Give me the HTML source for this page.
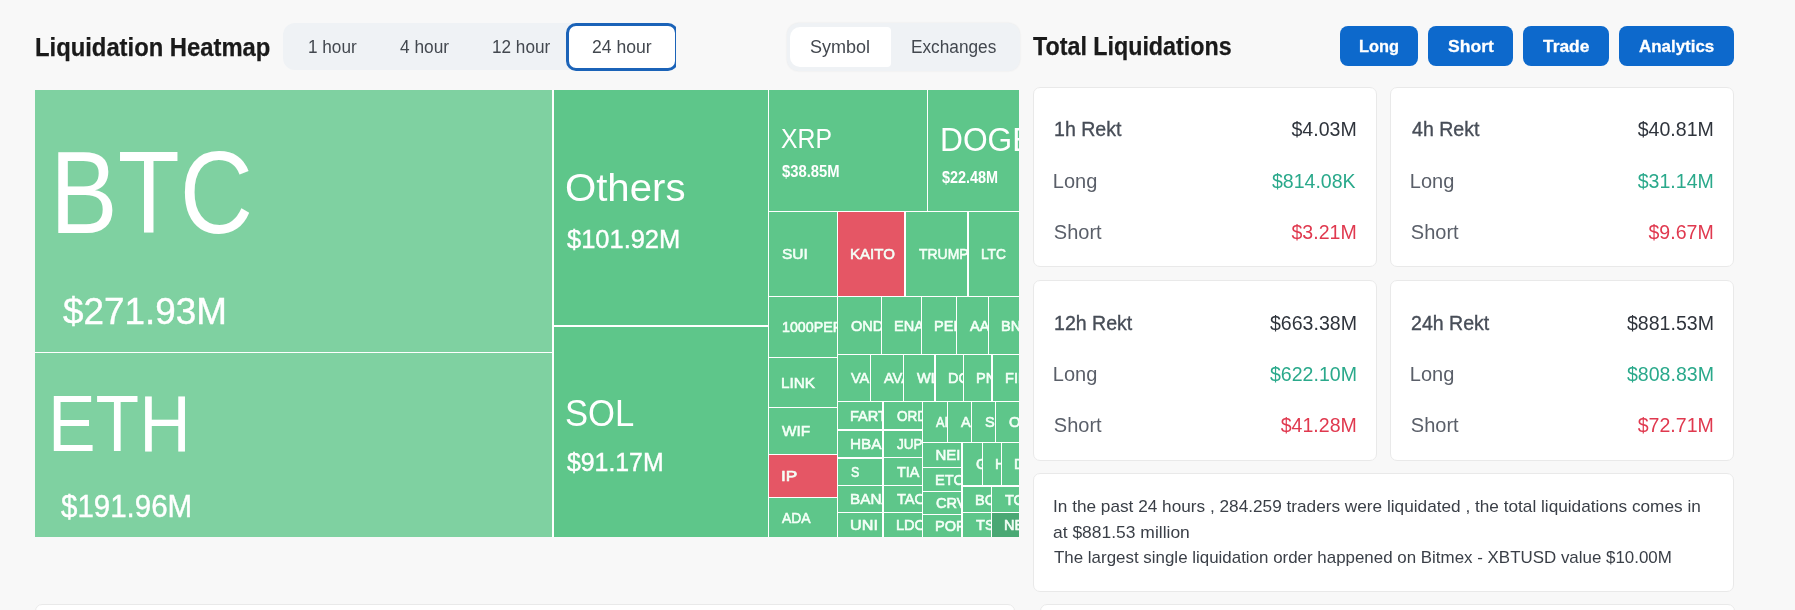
<!DOCTYPE html>
<html><head><meta charset="utf-8"><title>Liquidation Heatmap</title>
<style>
html,body{margin:0;padding:0}
body{width:1795px;height:610px;overflow:hidden;background:#f8f8f8;font-family:"Liberation Sans",sans-serif;position:relative}
.root{position:absolute;left:0;top:0;width:1795px;height:610px;overflow:hidden;transform:translateZ(0);will-change:transform}
.a{position:absolute}
.t{position:absolute;white-space:nowrap;line-height:1;transform-origin:0 0}
.tr{position:absolute;white-space:nowrap;line-height:1;transform-origin:100% 0}
.bx{position:absolute;overflow:hidden}
.s{-webkit-text-stroke:0.6px #f4fff7}
.m{-webkit-text-stroke:0.35px #474d57}
.v{-webkit-text-stroke:0.4px #fff}
.card{position:absolute;background:#fff;border:1px solid #e9e9e9;border-radius:7px;box-sizing:border-box}
.btn{position:absolute;background:#0d69cc;border-radius:8px;top:26px;height:40px}
.bt{-webkit-text-stroke:0.3px #fff}
.h{-webkit-text-stroke:0.25px #1a1a1a}
</style></head>
<body><div class="root">
<span class="t h" style="top:35.00px;font-size:25px;color:#1a1a1a;font-weight:700;left:34.65px;transform:scaleX(0.9520);">Liquidation Heatmap</span><div class="a" style="left:282.5px;top:23.2px;width:393.5px;height:47.3px;background:#eff2f5;border-radius:12px"></div><div class="a" style="left:560px;top:20px;width:116px;height:54px;overflow:hidden"><div class="a" style="left:6px;top:3px;width:111.5px;height:48px;background:#fff;border:3px solid #1b63b8;border-radius:10px;box-sizing:border-box"></div></div><span class="t" style="top:38.10px;font-size:18px;color:#43484f;left:308.05px;transform:scaleX(0.9540);">1 hour</span><span class="t" style="top:38.10px;font-size:18px;color:#43484f;left:400.00px;transform:scaleX(0.9608);">4 hour</span><span class="t" style="top:38.10px;font-size:18px;color:#43484f;left:491.85px;transform:scaleX(0.9533);">12 hour</span><span class="t" style="top:38.10px;font-size:18px;color:#43484f;left:592.42px;transform:scaleX(0.9767);">24 hour</span><div class="a" style="left:787px;top:23px;width:233px;height:48px;background:#eff2f5;border-radius:12px;box-shadow:0 0 2px rgba(0,0,0,0.08)"></div><div class="a" style="left:790px;top:27px;width:101px;height:40px;background:#fff;border-radius:10px 4px 4px 10px"></div><span class="t" style="top:37.90px;font-size:18px;color:#43484f;left:810.40px;transform:scaleX(1.0017);">Symbol</span><span class="t" style="top:37.90px;font-size:18px;color:#43484f;left:910.74px;transform:scaleX(0.9580);">Exchanges</span><div class="a" style="left:35px;top:90px;width:984px;height:447px;background:#fff"></div>
<div class="bx" style="left:35px;top:90px;width:517px;height:262px;background:#7fd1a1"><span class="t" style="top:43.80px;font-size:117px;color:#fff;left:15.29px;transform:scaleX(0.8673);">BTC</span><span class="t v" style="top:203.50px;font-size:36.8px;color:#fff;left:27.50px;transform:scaleX(1.0012);">$271.93M</span></div>
<div class="bx" style="left:35px;top:353px;width:517px;height:184px;background:#7fd1a1"><span class="t" style="top:30.80px;font-size:79px;color:#fff;left:13.38px;transform:scaleX(0.9034);">ETH</span><span class="t v" style="top:138.10px;font-size:31px;color:#fff;left:26.00px;transform:scaleX(0.9515);">$191.96M</span></div>
<div class="bx" style="left:554px;top:90px;width:214px;height:235px;background:#5ec68a"><span class="t" style="top:78.50px;font-size:38.4px;color:#fff;left:11.21px;transform:scaleX(1.0455);">Others</span><span class="t v" style="top:136.70px;font-size:25px;color:#fff;left:13.30px;transform:scaleX(1.0183);">$101.92M</span></div>
<div class="bx" style="left:554px;top:327px;width:214px;height:210px;background:#5ec68a"><span class="t" style="top:67.80px;font-size:37.6px;color:#fff;left:11.46px;transform:scaleX(0.9208);">SOL</span><span class="t v" style="top:122.80px;font-size:25px;color:#fff;left:13.30px;transform:scaleX(0.9927);">$91.17M</span></div>
<div class="bx" style="left:769px;top:90px;width:158px;height:121px;background:#5ec68a"><span class="t" style="top:35.35px;font-size:27.3px;color:#fff;left:12.49px;transform:scaleX(0.9074);">XRP</span><span class="t" style="top:72.75px;font-size:16.5px;color:#fff;font-weight:700;left:13.40px;transform:scaleX(0.8952);">$38.85M</span></div>
<div class="bx" style="left:928px;top:90px;width:91px;height:121px;background:#5ec68a"><span class="t" style="top:33.00px;font-size:33px;color:#fff;left:12.32px;transform:scaleX(0.9613);">DOGE</span><span class="t" style="top:79.50px;font-size:16px;color:#fff;font-weight:700;left:14.20px;transform:scaleX(0.9016);">$22.48M</span></div>
<div class="bx" style="left:769px;top:212px;width:68px;height:84px;background:#5ec68a"><span class="t s" style="top:34.16px;font-size:15px;color:#f4fff7;left:13.40px;transform:scaleX(1.0333);">SUI</span></div>
<div class="bx" style="left:838px;top:212px;width:66px;height:84px;background:#e55665"><span class="t s" style="top:34.16px;font-size:15px;color:#f4fff7;left:12.40px;transform:scaleX(1.0023);">KAITO</span></div>
<div class="bx" style="left:906px;top:212px;width:61px;height:84px;background:#5ec68a"><span class="t s" style="top:34.16px;font-size:15px;color:#f4fff7;left:13.40px;transform:scaleX(0.9300);">TRUMP</span></div>
<div class="bx" style="left:969px;top:212px;width:50px;height:84px;background:#5ec68a"><span class="t s" style="top:34.16px;font-size:15px;color:#f4fff7;left:12.48px;transform:scaleX(0.9154);">LTC</span></div>
<div class="bx" style="left:769px;top:297px;width:68px;height:60px;background:#5ec68a"><span class="t s" style="top:22.16px;font-size:15px;color:#f4fff7;left:13.05px;transform:scaleX(0.9500);">1000PEPE</span></div>
<div class="bx" style="left:769px;top:358px;width:68px;height:49px;background:#5ec68a"><span class="t s" style="top:16.66px;font-size:15px;color:#f4fff7;left:12.38px;transform:scaleX(1.0156);">LINK</span></div>
<div class="bx" style="left:769px;top:408px;width:68px;height:46px;background:#5ec68a"><span class="t s" style="top:15.16px;font-size:15px;color:#f4fff7;left:13.40px;transform:scaleX(1.0222);">WIF</span></div>
<div class="bx" style="left:769px;top:455px;width:68px;height:42px;background:#e55665"><span class="t s" style="top:13.16px;font-size:15px;color:#f4fff7;left:12.25px;transform:scaleX(1.1538);">IP</span></div>
<div class="bx" style="left:769px;top:498px;width:68px;height:39px;background:#5ec68a"><span class="t s" style="top:11.66px;font-size:15px;color:#f4fff7;left:13.40px;transform:scaleX(0.9290);">ADA</span></div>
<div class="bx" style="left:838px;top:297px;width:43px;height:57px;background:#5ec68a"><span class="t s" style="top:20.66px;font-size:15px;color:#f4fff7;left:13.40px;transform:scaleX(0.9700);">ONDO</span></div>
<div class="bx" style="left:882px;top:297px;width:39px;height:57px;background:#5ec68a"><span class="t s" style="top:20.66px;font-size:15px;color:#f4fff7;left:12.43px;transform:scaleX(0.9700);">ENA</span></div>
<div class="bx" style="left:922px;top:297px;width:34px;height:57px;background:#5ec68a"><span class="t s" style="top:20.66px;font-size:15px;color:#f4fff7;left:12.43px;transform:scaleX(0.9700);">PEPE</span></div>
<div class="bx" style="left:957px;top:297px;width:31px;height:57px;background:#5ec68a"><span class="t s" style="top:20.66px;font-size:15px;color:#f4fff7;left:13.40px;transform:scaleX(0.9700);">AAVE</span></div>
<div class="bx" style="left:989px;top:297px;width:30px;height:57px;background:#5ec68a"><span class="t s" style="top:20.66px;font-size:15px;color:#f4fff7;left:12.43px;transform:scaleX(0.9700);">BNB</span></div>
<div class="bx" style="left:838px;top:355px;width:32px;height:46px;background:#5ec68a"><span class="t s" style="top:15.16px;font-size:15px;color:#f4fff7;left:13.40px;transform:scaleX(0.9700);">VANA</span></div>
<div class="bx" style="left:871px;top:355px;width:32px;height:46px;background:#5ec68a"><span class="t s" style="top:15.16px;font-size:15px;color:#f4fff7;left:13.40px;transform:scaleX(0.9700);">AVAX</span></div>
<div class="bx" style="left:904px;top:355px;width:30px;height:46px;background:#5ec68a"><span class="t s" style="top:15.16px;font-size:15px;color:#f4fff7;left:13.40px;transform:scaleX(0.9700);">WLD</span></div>
<div class="bx" style="left:936px;top:355px;width:27px;height:46px;background:#5ec68a"><span class="t s" style="top:15.16px;font-size:15px;color:#f4fff7;left:12.43px;transform:scaleX(0.9700);">DOT</span></div>
<div class="bx" style="left:964px;top:355px;width:27px;height:46px;background:#5ec68a"><span class="t s" style="top:15.16px;font-size:15px;color:#f4fff7;left:12.43px;transform:scaleX(0.9700);">PNUT</span></div>
<div class="bx" style="left:993px;top:355px;width:26px;height:46px;background:#5ec68a"><span class="t s" style="top:15.16px;font-size:15px;color:#f4fff7;left:12.43px;transform:scaleX(0.9700);">FIL</span></div>
<div class="bx" style="left:838px;top:402px;width:44px;height:27px;background:#5ec68a"><span class="t s" style="top:5.66px;font-size:15px;color:#f4fff7;left:12.43px;transform:scaleX(0.9700);">FARTCOIN</span></div>
<div class="bx" style="left:838px;top:431px;width:44px;height:26px;background:#5ec68a"><span class="t s" style="top:5.16px;font-size:15px;color:#f4fff7;left:12.38px;transform:scaleX(1.0200);">HBAR</span></div>
<div class="bx" style="left:838px;top:459px;width:44px;height:26px;background:#5ec68a"><span class="t s" style="top:5.16px;font-size:15px;color:#f4fff7;left:13.40px;transform:scaleX(0.8300);">S</span></div>
<div class="bx" style="left:838px;top:486px;width:44px;height:26px;background:#5ec68a"><span class="t s" style="top:5.16px;font-size:15px;color:#f4fff7;left:12.38px;transform:scaleX(1.0200);">BANANA</span></div>
<div class="bx" style="left:838px;top:513px;width:44px;height:24px;background:#5ec68a"><span class="t s" style="top:4.16px;font-size:15px;color:#f4fff7;left:12.32px;transform:scaleX(1.0792);">UNI</span></div>
<div class="bx" style="left:884px;top:402px;width:38px;height:27px;background:#5ec68a"><span class="t s" style="top:5.66px;font-size:15px;color:#f4fff7;left:13.40px;transform:scaleX(0.9000);">ORDI</span></div>
<div class="bx" style="left:884px;top:431px;width:38px;height:26px;background:#5ec68a"><span class="t s" style="top:5.16px;font-size:15px;color:#f4fff7;left:13.40px;transform:scaleX(0.9000);">JUP</span></div>
<div class="bx" style="left:884px;top:458px;width:38px;height:27px;background:#5ec68a"><span class="t s" style="top:5.66px;font-size:15px;color:#f4fff7;left:13.40px;transform:scaleX(0.9583);">TIA</span></div>
<div class="bx" style="left:884px;top:486px;width:38px;height:26px;background:#5ec68a"><span class="t s" style="top:5.16px;font-size:15px;color:#f4fff7;left:13.40px;transform:scaleX(0.9700);">TAO</span></div>
<div class="bx" style="left:884px;top:513px;width:38px;height:24px;background:#5ec68a"><span class="t s" style="top:4.16px;font-size:15px;color:#f4fff7;left:12.43px;transform:scaleX(0.9700);">LDO</span></div>
<div class="bx" style="left:923px;top:402px;width:24px;height:40px;background:#5ec68a"><span class="t s" style="top:12.16px;font-size:15px;color:#f4fff7;left:13.40px;transform:scaleX(0.8500);">AI16Z</span></div>
<div class="bx" style="left:948px;top:402px;width:23px;height:40px;background:#5ec68a"><span class="t s" style="top:12.16px;font-size:15px;color:#f4fff7;left:13.40px;transform:scaleX(0.9700);">APT</span></div>
<div class="bx" style="left:972px;top:402px;width:23px;height:40px;background:#5ec68a"><span class="t s" style="top:12.16px;font-size:15px;color:#f4fff7;left:13.40px;transform:scaleX(0.9700);">SEI</span></div>
<div class="bx" style="left:996px;top:402px;width:23px;height:40px;background:#5ec68a"><span class="t s" style="top:12.16px;font-size:15px;color:#f4fff7;left:13.40px;transform:scaleX(0.9700);">OP</span></div>
<div class="bx" style="left:923px;top:443px;width:38px;height:24px;background:#5ec68a"><span class="t s" style="top:4.16px;font-size:15px;color:#f4fff7;left:12.40px;">NEIRO</span></div>
<div class="bx" style="left:923px;top:468px;width:38px;height:23px;background:#5ec68a"><span class="t s" style="top:3.66px;font-size:15px;color:#f4fff7;left:12.43px;transform:scaleX(0.9700);">ETC</span></div>
<div class="bx" style="left:923px;top:492px;width:38px;height:22px;background:#5ec68a"><span class="t s" style="top:3.16px;font-size:15px;color:#f4fff7;left:13.40px;transform:scaleX(0.9700);">CRV</span></div>
<div class="bx" style="left:923px;top:515px;width:38px;height:22px;background:#5ec68a"><span class="t s" style="top:3.16px;font-size:15px;color:#f4fff7;left:12.43px;transform:scaleX(0.9700);">POPCAT</span></div>
<div class="bx" style="left:963px;top:443px;width:19px;height:42px;background:#5ec68a"><span class="t s" style="top:13.16px;font-size:15px;color:#f4fff7;left:13.40px;transform:scaleX(0.9700);">GALA</span></div>
<div class="bx" style="left:983px;top:443px;width:18px;height:42px;background:#5ec68a"><span class="t s" style="top:13.16px;font-size:15px;color:#f4fff7;left:12.43px;transform:scaleX(0.9700);">HYPE</span></div>
<div class="bx" style="left:1002px;top:443px;width:17px;height:42px;background:#5ec68a"><span class="t s" style="top:13.16px;font-size:15px;color:#f4fff7;left:12.43px;transform:scaleX(0.9700);">DYDX</span></div>
<div class="bx" style="left:963px;top:487px;width:28px;height:25px;background:#5ec68a"><span class="t s" style="top:4.66px;font-size:15px;color:#f4fff7;left:12.43px;transform:scaleX(0.9700);">BCH</span></div>
<div class="bx" style="left:992px;top:487px;width:27px;height:25px;background:#5ec68a"><span class="t s" style="top:4.66px;font-size:15px;color:#f4fff7;left:13.40px;transform:scaleX(0.9700);">TON</span></div>
<div class="bx" style="left:963px;top:513px;width:28px;height:24px;background:#5ec68a"><span class="t s" style="top:4.16px;font-size:15px;color:#f4fff7;left:13.40px;transform:scaleX(0.9700);">TST</span></div>
<div class="bx" style="left:992px;top:513px;width:27px;height:24px;background:#4aa874"><span class="t s" style="top:4.16px;font-size:15px;color:#f4fff7;left:12.43px;transform:scaleX(0.9700);">NEAR</span></div>
<span class="t h" style="top:34.20px;font-size:25px;color:#1a1a1a;font-weight:700;left:1033.30px;transform:scaleX(0.9305);">Total Liquidations</span><div class="btn" style="left:1340px;width:78px"></div><span class="t bt" style="top:37.70px;font-size:17.4px;color:#fff;font-weight:700;left:1359.46px;transform:scaleX(0.9415);">Long</span><div class="btn" style="left:1428px;width:85px"></div><span class="t bt" style="top:37.70px;font-size:17.4px;color:#fff;font-weight:700;left:1447.59px;transform:scaleX(1.0091);">Short</span><div class="btn" style="left:1523px;width:86px"></div><span class="t bt" style="top:37.70px;font-size:17.4px;color:#fff;font-weight:700;left:1543.00px;">Trade</span><div class="btn" style="left:1619px;width:115px"></div><span class="t bt" style="top:37.70px;font-size:17.4px;color:#fff;font-weight:700;left:1639.30px;transform:scaleX(0.9727);">Analytics</span><div class="card" style="left:1033px;top:87px;width:344px;height:180px"></div><span class="t m" style="top:119.30px;font-size:20px;color:#474d57;left:1053.82px;transform:scaleX(0.9780);">1h Rekt</span><span class="t" style="top:170.60px;font-size:20px;color:#5a5f69;left:1052.80px;">Long</span><span class="t" style="top:221.60px;font-size:20px;color:#5a5f69;left:1053.80px;">Short</span><span class="tr" style="top:119.30px;font-size:20px;color:#2f343c;right:438.02px;transform:scaleX(0.9780);">$4.03M</span><span class="tr" style="top:170.60px;font-size:20px;color:#2aa98b;right:439.07px;transform:scaleX(0.9780);">$814.08K</span><span class="tr" style="top:221.60px;font-size:20px;color:#e0394f;right:438.02px;transform:scaleX(0.9780);">$3.21M</span>
<div class="card" style="left:1390px;top:87px;width:344px;height:180px"></div><span class="t m" style="top:119.30px;font-size:20px;color:#474d57;left:1411.80px;transform:scaleX(0.9780);">4h Rekt</span><span class="t" style="top:170.60px;font-size:20px;color:#5a5f69;left:1409.80px;">Long</span><span class="t" style="top:221.60px;font-size:20px;color:#5a5f69;left:1410.80px;">Short</span><span class="tr" style="top:119.30px;font-size:20px;color:#2f343c;right:81.10px;transform:scaleX(0.9780);">$40.81M</span><span class="tr" style="top:170.60px;font-size:20px;color:#2aa98b;right:81.10px;transform:scaleX(0.9780);">$31.14M</span><span class="tr" style="top:221.60px;font-size:20px;color:#e0394f;right:81.22px;transform:scaleX(0.9780);">$9.67M</span>
<div class="card" style="left:1033px;top:280px;width:344px;height:180.5px"></div><span class="t m" style="top:312.80px;font-size:20px;color:#474d57;left:1053.82px;transform:scaleX(0.9780);">12h Rekt</span><span class="t" style="top:364.10px;font-size:20px;color:#5a5f69;left:1052.80px;">Long</span><span class="t" style="top:415.10px;font-size:20px;color:#5a5f69;left:1053.80px;">Short</span><span class="tr" style="top:312.80px;font-size:20px;color:#2f343c;right:437.77px;transform:scaleX(0.9780);">$663.38M</span><span class="tr" style="top:364.10px;font-size:20px;color:#2aa98b;right:437.77px;transform:scaleX(0.9780);">$622.10M</span><span class="tr" style="top:415.10px;font-size:20px;color:#e0394f;right:437.90px;transform:scaleX(0.9780);">$41.28M</span>
<div class="card" style="left:1390px;top:280px;width:344px;height:180.5px"></div><span class="t m" style="top:312.80px;font-size:20px;color:#474d57;left:1410.82px;transform:scaleX(0.9780);">24h Rekt</span><span class="t" style="top:364.10px;font-size:20px;color:#5a5f69;left:1409.80px;">Long</span><span class="t" style="top:415.10px;font-size:20px;color:#5a5f69;left:1410.80px;">Short</span><span class="tr" style="top:312.80px;font-size:20px;color:#2f343c;right:80.97px;transform:scaleX(0.9780);">$881.53M</span><span class="tr" style="top:364.10px;font-size:20px;color:#2aa98b;right:80.97px;transform:scaleX(0.9780);">$808.83M</span><span class="tr" style="top:415.10px;font-size:20px;color:#e0394f;right:81.10px;transform:scaleX(0.9780);">$72.71M</span>
<div class="card" style="left:1033px;top:473px;width:701px;height:118.5px"></div><span class="t" style="top:498.00px;font-size:17px;color:#3a3f47;left:1053.19px;transform:scaleX(1.0125);">In the past 24 hours , 284.259 traders were liquidated , the total liquidations comes in</span><span class="t" style="top:523.60px;font-size:17px;color:#3a3f47;left:1053.17px;transform:scaleX(1.0267);">at $881.53 million</span><span class="t" style="top:548.80px;font-size:17px;color:#3a3f47;left:1054.20px;transform:scaleX(0.9952);">The largest single liquidation order happened on Bitmex - XBTUSD value $10.00M</span><div class="card" style="left:35px;top:604px;width:980px;height:40px"></div><div class="card" style="left:1040px;top:604px;width:695px;height:40px"></div>
</div></body></html>
